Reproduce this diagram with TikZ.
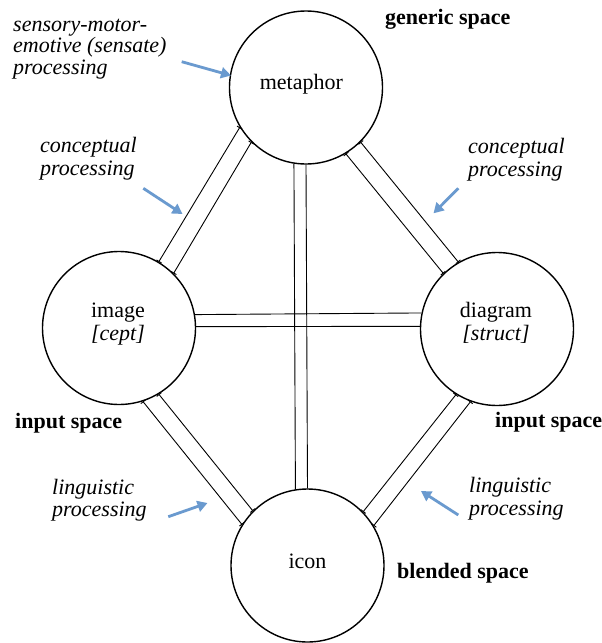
\documentclass[tikz,border=0pt]{standalone}
\usepackage{fontspec}
\setmainfont{Liberation Serif}
\usetikzlibrary{arrows.meta}
\definecolor{arrowblue}{RGB}{106,154,207}
\begin{document}
\begin{tikzpicture}[x=1pt,y=-1pt,
  ring/.style={circle,draw,line width=1.4pt,minimum size=153pt,inner sep=0pt},
  word/.style={anchor=base,inner sep=0pt,font=\fontsize{22}{23}\selectfont},
  note/.style={anchor=base west,align=left,inner sep=0pt,font=\fontsize{22}{22.5}\selectfont\itshape},
  tag/.style={anchor=base west,inner sep=0pt,font=\fontsize{22}{22}\selectfont\bfseries},
  link/.style={line width=0.9pt},
  ticked/.style={link,{Bar[width=6pt,line width=0.9pt]}-{Bar[width=6pt,line width=0.9pt]}},
  pointer/.style={draw=arrowblue,line width=2.8pt,-{Triangle[length=10pt,width=11pt]}}
]
\useasboundingbox[fill=white] (0,0) rectangle (602,643);

% the four spaces
\node[ring] (meta) at (306,87.5) {};
\node[ring] (img)  at (119,328) {};
\node[ring] (diag) at (497,329) {};
\node[ring] (icon) at (307.5,565.5) {};

% straight double links
\draw[link] (meta.261.7) -- (icon.99.4);
\draw[link] (meta.270.75) -- (icon.90.4);
\draw[link] (img.10.5) -- (diag.168.7);
\draw[link] (img.1.0) -- (diag.178.3);

% slanted double links with end bars
\draw[ticked] (meta.211.5) -- (img.59.6);
\draw[ticked] (meta.225.5) -- (img.45.6);
\draw[ticked] (meta.315.6) -- (diag.120.9);
\draw[ticked] (meta.301.5) -- (diag.134.5);
\draw[ticked] (img.301.3) -- (icon.135.8);
\draw[ticked] (img.288) -- (icon.148.5);
\draw[ticked] (diag.238.1) -- (icon.44.2);
\draw[ticked] (diag.250.5) -- (icon.31.9);

% names inside the circles (base = last line)
\node[word] (metaT) at (301.3,89) {metaphor};
\node[word,align=center] (imgT) at (118,340) {image\\\textit{[cept]}};
\node[word,align=center] (diagT) at (496,340) {diagram\\\textit{[struct]}};
\node[word] (iconT) at (307.5,568) {icon};

% space labels
\node[tag] (genT) at (385,24) {generic space};
\node[tag] (inL) at (15,428) {input space};
\node[tag] (inR) at (495,427) {input space};
\node[tag] (blT) at (397,578) {blended space};

% processing notes (base = last line)
\node[note,font=\fontsize{22}{21.5}\selectfont\itshape] (sens) at (13,74) {sensory-motor-\\emotive (sensate)\\processing};
\node[note] (cL) at (40,175) {conceptual\\processing};
\node[note] (cR) at (468,176) {conceptual\\processing};
\node[note] (lL) at (52,516.5) {linguistic\\processing};
\node[note] (lR) at (469,515) {linguistic\\processing};

% pointers
\coordinate (p1s) at (181.7,61.7);  \coordinate (p1e) at (231,75.5);
\coordinate (p2s) at (143.3,188.3); \coordinate (p2e) at (182.5,214);
\coordinate (p3s) at (458.3,188.3); \coordinate (p3e) at (433.5,213.3);
\coordinate (p4s) at (168.3,516.7); \coordinate (p4e) at (207.5,503);
\coordinate (p5s) at (458.3,515);   \coordinate (p5e) at (421,491);
\draw[pointer] (p1s) -- (p1e);
\draw[pointer] (p2s) -- (p2e);
\draw[pointer] (p3s) -- (p3e);
\draw[pointer] (p4s) -- (p4e);
\draw[pointer] (p5s) -- (p5e);
\end{tikzpicture}
\end{document}
